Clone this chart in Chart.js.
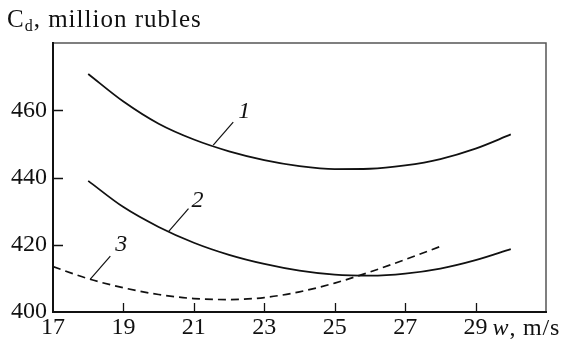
<!DOCTYPE html>
<html>
<head>
<meta charset="utf-8">
<script src="https://cdn.jsdelivr.net/npm/chart.js@4/dist/chart.umd.min.js"></script>
<style>
  html, body { margin: 0; padding: 0; background: #fff; }
  #wrap { width: 570px; height: 345px; }
</style>
</head>
<body>
<div id="wrap"><canvas id="chart"></canvas></div>
<script>
// values
const w1 = [18, 19, 20, 21, 22, 23, 24, 25, 26, 27, 28, 29, 30];
const cost1 = [470.8, 462.6, 456.0, 451.3, 447.8, 445.2, 443.4, 442.5, 442.6, 443.6, 445.5, 448.6, 452.8];
const w2 = [18, 19, 20, 21, 22, 23, 24, 25, 26, 27, 28, 29, 30];
const cost2 = [439, 431.2, 425.3, 420.6, 417.0, 414.3, 412.3, 411.1, 410.8, 411.4, 412.9, 415.4, 418.7];
const w3 = [17, 18, 19, 20, 21, 22, 23, 24, 25, 26, 27, 28];
const cost3 = [413.5, 409.9, 407.2, 405.2, 404.0, 403.7, 404.3, 406.0, 408.6, 411.9, 415.6, 419.5];
const xTicks = [17, 19, 21, 23, 25, 27, 29, 31];
const yTicks = [400, 420, 440, 460, 480];
const curveNames = ['1', '2', '3'];

const serif = '"Liberation Serif", "DejaVu Serif", serif';
const ink = '#111';

function pts(xs, ys) {
    return xs.map((x, i) => ({ x: x, y: ys[i] }));
}

// where each number's leader touches its curve (data units)
const leaders = [
    { name: curveNames[0], x: 21.55, y: 449.6 },
    { name: curveNames[1], x: 20.28, y: 423.9 },
    { name: curveNames[2], x: 18.06, y: 409.8 }
];

const decor = {
    id: 'decor',
    afterDraw(chart) {
        const ctx = chart.ctx;
        const xs = chart.scales.x, ys = chart.scales.y;
        const a = chart.chartArea;
        ctx.save();

        // frame
        ctx.strokeStyle = '#555';
        ctx.lineWidth = 1.5;
        ctx.beginPath();
        ctx.moveTo(a.left, a.top);
        ctx.lineTo(a.right, a.top);
        ctx.lineTo(a.right, a.bottom);
        ctx.stroke();
        ctx.strokeStyle = ink;
        ctx.lineWidth = 2;
        ctx.beginPath();
        ctx.moveTo(a.left, a.top - 1);
        ctx.lineTo(a.left, a.bottom);
        ctx.lineTo(a.right + 1, a.bottom);
        ctx.stroke();

        // inner ticks
        ctx.lineWidth = 1.3;
        ctx.beginPath();
        xTicks.slice(1, -1).forEach(v => {
            const px = Math.round(xs.getPixelForValue(v)) + 0.5;
            ctx.moveTo(px, a.bottom);
            ctx.lineTo(px, a.bottom - 9);
        });
        yTicks.slice(1, -1).forEach(v => {
            const py = Math.round(ys.getPixelForValue(v)) + 0.5;
            ctx.moveTo(a.left, py);
            ctx.lineTo(a.left + 10, py);
        });
        ctx.stroke();

        // leaders and curve numbers
        ctx.lineWidth = 1.2;
        ctx.fillStyle = ink;
        ctx.font = 'italic 24px ' + serif;
        ctx.textAlign = 'center';
        ctx.textBaseline = 'middle';
        leaders.forEach((l, i) => {
            const px = xs.getPixelForValue(l.x), py = ys.getPixelForValue(l.y);
            ctx.beginPath();
            ctx.moveTo(px, py);
            ctx.lineTo(px + 20, py - 23);
            ctx.stroke();
            ctx.fillText(l.name, px + (i === 1 ? 29 : 31), py - (i === 1 ? 31 : 34));
        });

        // axis title of the y axis, top left
        ctx.textAlign = 'left';
        ctx.textBaseline = 'alphabetic';
        ctx.letterSpacing = '1px';
        ctx.font = '25px ' + serif;
        ctx.fillText('C', 7, 27);
        let x = 7 + ctx.measureText('C').width;
        ctx.font = '16px ' + serif;
        ctx.fillText('d', x, 31);
        x += ctx.measureText('d').width;
        ctx.font = '25px ' + serif;
        ctx.fillText(', million rubles', x, 27);

        // axis title of the x axis, after 29
        const base = a.bottom + 23;
        ctx.letterSpacing = '0.8px';
        let tx = xs.getPixelForValue(29) + 17;
        ctx.font = 'italic 24px ' + serif;
        ctx.fillText('w', tx, base);
        tx += ctx.measureText('w').width;
        ctx.font = '24px ' + serif;
        ctx.fillText(', m/s', tx, base);

        ctx.restore();
    }
};

new Chart(document.getElementById('chart'), {
    type: 'line',
    data: {
        datasets: [
            { label: curveNames[0], data: pts(w1, cost1) },
            { label: curveNames[1], data: pts(w2, cost2) },
            { label: curveNames[2], data: pts(w3, cost3), borderDash: [8, 5], borderWidth: 1.7 }
        ]
    },
    options: {
        responsive: true,
        maintainAspectRatio: false,
        animation: false,
        layout: { padding: { top: 43, right: 24, left: 0, bottom: 0 } },
        elements: {
            line: { borderColor: ink, borderWidth: 1.8, cubicInterpolationMode: 'monotone', fill: false },
            point: { radius: 0 }
        },
        plugins: {
            legend: { display: false },
            tooltip: { enabled: false }
        },
        scales: {
            x: {
                type: 'linear',
                min: 17,
                max: 31,
                afterBuildTicks: s => { s.ticks = xTicks.map(v => ({ value: v })); },
                afterFit: s => { s.height = 33; },
                grid: { display: false, drawTicks: false },
                border: { display: false },
                ticks: {
                    padding: 1,
                    color: ink,
                    font: { family: serif, size: 24 },
                    callback: v => (v === 31 ? '' : v)
                }
            },
            y: {
                min: 400,
                max: 480,
                afterBuildTicks: s => { s.ticks = yTicks.map(v => ({ value: v })); },
                afterFit: s => { s.width = 53; },
                grid: { display: false, drawTicks: false },
                border: { display: false },
                ticks: {
                    padding: 6,
                    color: ink,
                    font: { family: serif, size: 24 },
                    callback: v => (v === 480 ? '' : v)
                }
            }
        }
    },
    plugins: [decor]
});
</script>
</body>
</html>
